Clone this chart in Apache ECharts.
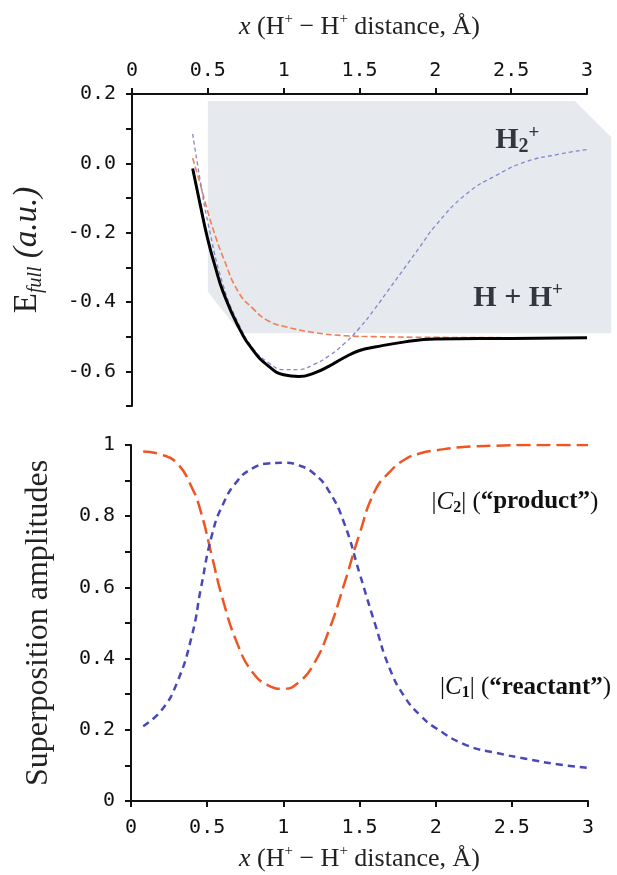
<!DOCTYPE html>
<html><head><meta charset="utf-8">
<script src="https://cdn.jsdelivr.net/npm/echarts@6/dist/echarts.min.js"></script>
<style>html,body{margin:0;padding:0;background:#fff}#c{width:617px;height:875px}</style>
</head><body><div id="c"></div>
<script>
// ---- Top panel: energies ----
const xTicksTop = [0, 0.5, 1, 1.5, 2, 2.5, 3];
const xFull = [0.40,0.45,0.50,0.55,0.60,0.70,0.80,0.90,1.00,1.10,1.20,1.30,1.40,1.50,1.60,1.80,2.00,2.50,3.00];
const eFull = [-0.015,-0.12,-0.22,-0.30,-0.37,-0.47,-0.54,-0.585,-0.61,-0.615,-0.605,-0.585,-0.56,-0.54,-0.53,-0.515,-0.507,-0.505,-0.503];
const xH2 = [0.40,0.45,0.50,0.60,0.70,0.80,0.90,1.00,1.10,1.20,1.30,1.40,1.50,1.60,1.70,1.80,1.90,2.00,2.20,2.40,2.60,2.80,3.00];
const eH2 = [0.085,-0.05,-0.17,-0.35,-0.46,-0.535,-0.575,-0.595,-0.595,-0.58,-0.555,-0.52,-0.475,-0.42,-0.36,-0.30,-0.24,-0.18,-0.09,-0.035,0.005,0.025,0.04];
const xHH = [0.40,0.45,0.50,0.55,0.60,0.70,0.80,0.90,1.00,1.20,1.40,1.60,2.00,2.50];
const eHH = [0.015,-0.06,-0.14,-0.21,-0.27,-0.37,-0.42,-0.455,-0.47,-0.488,-0.497,-0.50,-0.502,-0.503];
// shaded background region (data coordinates)
const shadeX = [0.5, 2.92, 3.16, 3.16, 0.72, 0.57, 0.5];
const shadeY = [0.18, 0.18, 0.075, -0.49, -0.49, -0.41, -0.37];

// ---- Bottom panel: superposition amplitudes ----
const xAmp = [0.08,0.2,0.3,0.4,0.46,0.53,0.6,0.7,0.8,0.9,1.0,1.1,1.2,1.3,1.4,1.5,1.6,1.7,1.8,1.9,2.0,2.2,2.4,2.6,2.8,3.0];
const c2 = [0.982,0.973,0.95,0.88,0.81,0.69,0.57,0.44,0.36,0.325,0.315,0.333,0.385,0.48,0.61,0.75,0.87,0.925,0.96,0.977,0.985,0.995,0.998,1.0,1.0,1.0];
const c1 = [0.21,0.255,0.33,0.465,0.60,0.745,0.83,0.90,0.935,0.948,0.95,0.943,0.92,0.87,0.78,0.64,0.50,0.37,0.29,0.24,0.205,0.157,0.135,0.118,0.103,0.093];

// annotation anchors (data coordinates)
const annTop = [[2.54, 0.067], [2.546, -0.388]];
const annBot = [[2.52, 0.84], [2.59, 0.32]];

const serif = '"Liberation Serif", "Times New Roman", serif';
const mono = '"DejaVu Sans Mono", monospace';
const pair = (xs, ys) => xs.map((x, i) => [x, ys[i]]);
const axLine = { color: '#111', width: 2 };

const xTitleStyle = {
  fontFamily: serif, fontSize: 26, color: '#222', lineHeight: 30,
  rich: {
    i: { fontFamily: serif, fontSize: 26, fontStyle: 'italic', color: '#222', lineHeight: 30 },
    sup: { fontFamily: serif, fontSize: 15, color: '#222', verticalAlign: 'top', lineHeight: 15 }
  }
};
const eTitleStyle = {
  fontFamily: serif, fontSize: 33, color: '#222', lineHeight: 38,
  rich: {
    i: { fontFamily: serif, fontSize: 33, fontStyle: 'italic', color: '#222', lineHeight: 38 },
    sub: { fontFamily: serif, fontSize: 20, fontStyle: 'italic', color: '#222', verticalAlign: 'bottom', lineHeight: 16 }
  }
};
const ampTitleStyle = { fontFamily: serif, fontSize: 32, color: '#222', lineHeight: 36 };
const xName = '{i|x} (H{sup|+} − H{sup|+} distance, Å)';

const labelStyle = { fontFamily: mono, fontSize: 20, color: '#111' };

const chart = echarts.init(document.getElementById('c'));
chart.setOption({
  animation: false,
  backgroundColor: '#fff',
  grid: [
    { left: 131, right: 30, top: 94, height: 312 },
    { left: 131, right: 29, top: 445, height: 356 }
  ],
  xAxis: [
    {
      type: 'value', gridIndex: 0, position: 'top', min: 0, max: 3, interval: 0.5,
      axisLine: { show: true, onZero: false, lineStyle: axLine },
      axisTick: { show: true, length: 6, lineStyle: axLine },
      splitLine: { show: false },
      axisLabel: Object.assign({}, labelStyle, { margin: 13, formatter: v => String(v) }),
      name: xName, nameLocation: 'middle', nameGap: 52, nameTextStyle: xTitleStyle
    },
    {
      type: 'value', gridIndex: 1, position: 'bottom', min: 0, max: 3, interval: 0.5,
      axisLine: { show: true, onZero: false, lineStyle: axLine },
      axisTick: { show: true, length: 6, lineStyle: axLine },
      splitLine: { show: false },
      axisLabel: Object.assign({}, labelStyle, { margin: 17, formatter: v => String(v) }),
      name: xName, nameLocation: 'middle', nameGap: 43, nameTextStyle: xTitleStyle
    }
  ],
  yAxis: [
    {
      type: 'value', gridIndex: 0, min: -0.7, max: 0.2, interval: 0.1,
      axisLine: { show: true, onZero: false, lineStyle: axLine },
      axisTick: { show: true, length: 6, lineStyle: axLine },
      splitLine: { show: false },
      axisLabel: Object.assign({}, labelStyle, {
        margin: 16,
        formatter: v => { const r = Math.round(v * 10); if (r % 2 !== 0) return ''; return r === 0 ? '0.0' : (r / 10).toFixed(1); }
      }),
      name: 'E{sub|full} {i|(a.u.)}', nameLocation: 'middle', nameGap: 86, nameTextStyle: eTitleStyle
    },
    {
      type: 'value', gridIndex: 1, min: 0, max: 1, interval: 0.1,
      axisLine: { show: true, onZero: false, lineStyle: axLine },
      axisTick: { show: true, length: 6, lineStyle: axLine },
      splitLine: { show: false },
      axisLabel: Object.assign({}, labelStyle, {
        margin: 16,
        formatter: v => { const r = Math.round(v * 10); if (r % 2 !== 0) return ''; if (r === 0) return '0'; if (r === 10) return '1'; return (r / 10).toFixed(1); }
      }),
      name: 'Superposition amplitudes', nameLocation: 'middle', nameGap: 74, nameTextStyle: ampTitleStyle
    }
  ],
  series: [
    {
      type: 'custom', xAxisIndex: 0, yAxisIndex: 0, clip: false, silent: true, z: 1,
      data: pair(shadeX, shadeY),
      renderItem: (params, api) => {
        if (params.dataIndex !== 0) return null;
        const pts = shadeX.map((x, i) => api.coord([x, shadeY[i]]));
        return { type: 'polygon', shape: { points: pts }, style: { fill: '#e6e9ee' } };
      }
    },
    {
      type: 'line', xAxisIndex: 0, yAxisIndex: 0, data: pair(xHH, eHH), smooth: true, showSymbol: false, z: 3,
      lineStyle: { color: '#ef7f55', width: 1.6, type: [6, 3] }
    },
    {
      type: 'line', xAxisIndex: 0, yAxisIndex: 0, data: pair(xH2, eH2), smooth: true, showSymbol: false, z: 4,
      lineStyle: { color: '#8585cc', width: 1.3, type: [4, 3] }
    },
    {
      type: 'line', xAxisIndex: 0, yAxisIndex: 0, data: pair(xFull, eFull), smooth: true, showSymbol: false, z: 5,
      lineStyle: { color: '#000', width: 3 }
    },
    {
      type: 'line', xAxisIndex: 1, yAxisIndex: 1, data: pair(xAmp, c2), smooth: true, showSymbol: false, z: 3,
      lineStyle: { color: '#ee5522', width: 2.5, type: [14, 6] }
    },
    {
      type: 'line', xAxisIndex: 1, yAxisIndex: 1, data: pair(xAmp, c1), smooth: true, showSymbol: false, z: 4,
      lineStyle: { color: '#4848b8', width: 2.5, type: [7, 5] }
    },
    {
      type: 'scatter', xAxisIndex: 0, yAxisIndex: 0, symbolSize: 0, silent: true, z: 6,
      itemStyle: { opacity: 1 },
      data: annTop,
      label: {
        show: true, position: 'inside', opacity: 1,
        formatter: p => p.dataIndex === 0 ? '{h|H}{s|2}{p|+}' : '{h|H + H}{p|+}',
        rich: {
          h: { fontFamily: serif, fontWeight: 'bold', fontSize: 30, color: '#33363e', lineHeight: 34 },
          s: { fontFamily: serif, fontWeight: 'bold', fontSize: 20, color: '#33363e', verticalAlign: 'bottom', lineHeight: 16 },
          p: { fontFamily: serif, fontWeight: 'bold', fontSize: 19, color: '#33363e', verticalAlign: 'top', lineHeight: 16 }
        }
      }
    },
    {
      type: 'scatter', xAxisIndex: 1, yAxisIndex: 1, symbolSize: 0, silent: true, z: 6,
      itemStyle: { opacity: 1 },
      data: annBot,
      label: {
        show: true, position: 'inside', opacity: 1,
        formatter: p => p.dataIndex === 0
          ? '{n||}{i|C}{s|2}{n|| (}{b|“product”}{n|)}'
          : '{n||}{i|C}{s|1}{n|| (}{b|“reactant”}{n|)}',
        rich: {
          n: { fontFamily: serif, fontSize: 25, color: '#111', lineHeight: 28 },
          i: { fontFamily: serif, fontSize: 25, fontStyle: 'italic', color: '#111', lineHeight: 28 },
          b: { fontFamily: serif, fontSize: 25, fontWeight: 'bold', color: '#111', lineHeight: 28 },
          s: { fontFamily: serif, fontSize: 16, fontWeight: 'bold', color: '#111', verticalAlign: 'bottom', lineHeight: 13 }
        }
      }
    }
  ]
});
</script>
</body></html>
